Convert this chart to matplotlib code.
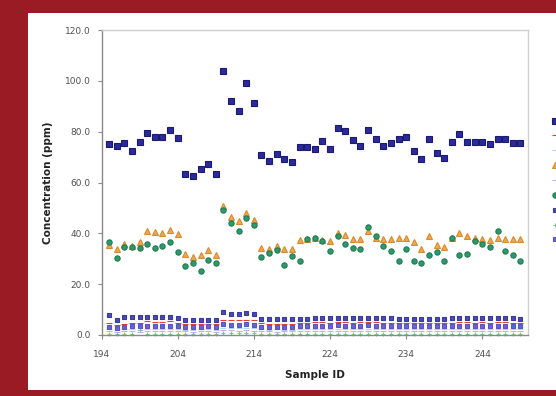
import matplotlib
matplotlib.use("Agg")
import matplotlib.pyplot as plt
from matplotlib.patches import Rectangle

# sample ids 195..249
sample_id = list(range(195, 250))

s1 = [75.1, 74.4, 75.7, 72.5, 76.1, 79.3, 78.0, 78.0, 80.7, 77.4,
      63.3, 62.6, 65.2, 67.3, 63.3,
      104.0, 92.2, 88.1, 99.0, 91.1,
      70.8, 68.5, 71.2, 69.1, 68.1,
      74.0, 74.0, 73.0, 76.2, 73.3, 81.3, 80.3, 76.7, 74.5, 80.7,
      77.2, 74.5, 75.4, 77.1, 77.8, 72.5, 69.1, 77.1, 71.5, 69.8,
      76.1, 79.1, 76.1, 76.1, 76.1, 75.1, 77.0, 77.0, 75.4, 75.4]
s2 = [4.6, 3.8, 4.4, 4.6, 4.8, 5.4, 5.2, 5.2, 5.4, 4.8,
      4.2, 4.2, 4.2, 4.4, 4.2,
      5.8, 5.8, 5.8, 5.8, 5.8,
      4.6, 4.4, 4.4, 4.4, 4.2,
      4.6, 4.8, 5.0, 5.0, 4.8, 5.0, 5.0, 4.8, 5.0, 5.2,
      5.0, 4.8, 4.8, 4.8, 4.8, 4.6, 4.6, 4.8, 4.6, 4.6,
      4.8, 5.0, 5.0, 4.8, 5.0, 4.8, 5.0, 5.0, 4.8, 4.6]
s3 = [2.2, 1.8, 2.2, 2.4, 2.0, 2.4, 2.4, 2.2, 2.4, 2.2,
      2.0, 2.0, 2.2, 2.2, 2.0,
      2.8, 2.6, 2.6, 2.8, 2.6,
      2.2, 2.0, 2.2, 2.0, 2.0,
      2.2, 2.4, 2.4, 2.2, 2.4, 2.4, 2.2, 2.4, 2.4, 2.2,
      2.4, 2.2, 2.2, 2.4, 2.2, 2.2, 2.2, 2.4, 2.2, 2.2,
      2.4, 2.4, 2.2, 2.4, 2.2, 2.4, 2.4, 2.2, 2.4, 2.2]
s4 = [35.4, 34.0, 36.0, 35.0, 36.5, 40.8, 40.4, 40.1, 41.2, 39.8,
      32.0, 30.7, 31.4, 33.3, 31.4,
      50.9, 46.6, 45.0, 48.1, 45.3,
      34.4, 33.7, 35.0, 33.7, 33.7,
      37.5, 37.8, 38.0, 37.5, 37.0, 40.0, 39.5, 37.8, 37.8, 40.8,
      38.2, 37.8, 37.8, 38.0, 38.0, 36.5, 34.0, 39.0, 35.5, 34.5,
      38.2, 40.0, 39.0, 38.0, 37.8, 37.5, 38.0, 37.8, 37.8, 37.8]
s5 = [1.4, 1.2, 1.6, 1.4, 1.0, 1.6, 1.6, 1.4, 1.6, 1.4,
      1.4, 1.2, 1.4, 1.4, 1.2,
      1.8, 1.8, 1.6, 1.8, 1.6,
      1.4, 1.4, 1.2, 1.4, 1.4,
      1.6, 1.6, 1.4, 1.6, 1.6, 1.6, 1.4, 1.6, 1.6, 1.4,
      1.6, 1.4, 1.6, 1.6, 1.4, 1.4, 1.6, 1.4, 1.4, 1.4,
      1.6, 1.6, 1.4, 1.6, 1.6, 1.4, 1.6, 1.6, 1.4, 1.6]
s6 = [36.7, 30.2, 34.6, 34.5, 34.2, 36.0, 34.3, 35.2, 36.7, 32.6,
      27.2, 28.5, 25.3, 29.4, 28.2,
      49.1, 44.2, 41.0, 46.0, 43.2,
      30.5, 32.4, 33.3, 27.6, 31.0,
      29.2, 37.8, 38.0, 37.0, 33.0, 39.0, 36.0, 34.4, 34.0, 42.5,
      39.0, 35.0, 33.0, 29.0, 34.0, 29.0, 28.5, 31.5, 32.5, 29.0,
      38.0, 31.5, 32.0, 37.0, 36.0, 34.5, 41.0, 33.0, 31.5, 29.0]
s7 = [7.8, 5.8, 7.2, 7.0, 7.0, 7.0, 7.0, 7.0, 7.0, 6.8,
      6.0, 6.0, 6.0, 6.0, 6.0,
      9.2, 8.4, 8.4, 8.6, 8.2,
      6.2, 6.2, 6.2, 6.2, 6.2,
      6.4, 6.4, 6.6, 6.6, 6.6, 6.6, 6.6, 6.6, 6.6, 6.6,
      6.6, 6.6, 6.6, 6.4, 6.4, 6.2, 6.4, 6.4, 6.4, 6.4,
      6.6, 6.6, 6.6, 6.6, 6.6, 6.6, 6.6, 6.6, 6.6, 6.4]
s8 = [0.5, 0.4, 0.5, 0.5, 1.8, 0.5, 0.5, 0.5, 0.5, 0.5,
      0.4, 0.4, 0.4, 0.4, 0.4,
      0.6, 0.6, 0.6, 0.6, 0.6,
      0.4, 0.4, 0.4, 0.4, 0.4,
      0.5, 0.5, 0.5, 0.5, 0.5, 0.5, 0.5, 0.5, 0.5, 0.5,
      0.5, 0.5, 0.5, 0.5, 0.5, 0.5, 0.5, 0.5, 0.5, 0.5,
      0.5, 0.5, 0.5, 0.5, 0.5, 0.5, 0.5, 0.5, 0.5, 0.5]
s9 = [3.0, 2.6, 3.2, 3.4, 3.4, 3.6, 3.6, 3.6, 3.6, 3.4,
      3.2, 3.2, 3.2, 3.4, 3.2,
      4.4, 4.0, 4.0, 4.2, 4.0,
      3.2, 3.0, 3.0, 3.2, 3.0,
      3.4, 3.6, 3.6, 3.6, 3.6, 3.8, 3.6, 3.6, 3.6, 3.8,
      3.6, 3.6, 3.6, 3.6, 3.4, 3.4, 3.4, 3.6, 3.4, 3.4,
      3.6, 3.6, 3.6, 3.6, 3.6, 3.6, 3.6, 3.6, 3.6, 3.4]

series_names = ["Series1", "Series2", "Series3", "Series4", "Series5",
                "Series6", "Series7", "Series8", "Series9"]
y_ticks = [0, 20, 40, 60, 80, 100, 120]
x_ticks = [194, 204, 214, 224, 234, 244]

# (values, marker, face colour, edge colour, size)
styles = [
    (s1, "s", "#2a2a9a", "#1a1a70", 4.0),
    (s2, "_", "#e0402a", "#e0402a", 4.5),
    (s3, "_", "#b8d4f0", "#b8d4f0", 4.0),
    (s4, "^", "#f0a84a", "#d88a30", 4.0),
    (s5, "_", "#c0b0ec", "#c0b0ec", 4.0),
    (s6, "o", "#2e9a6a", "#207a52", 3.8),
    (s7, "s", "#4a4ab8", "#3a3a9a", 2.8),
    (s8, "+", "#7cc88c", "#7cc88c", 3.2),
    (s9, "s", "#6a64d0", "#5a54c0", 2.5),
]

fig = plt.figure(figsize=(5.56, 3.96), dpi=100)
fig.patch.set_facecolor("#9a1b24")
fig.patches.append(Rectangle((28 / 556, 1 - 390 / 396), 1.0, 377 / 396,
                             transform=fig.transFigure, facecolor="white",
                             edgecolor="none", zorder=-5))

ax = fig.add_axes([101.5 / 556, 1 - 335 / 396, 426.5 / 556, 305 / 396])
ax.set_facecolor("white")

for (vals, mk, fc, ec, ms), name in zip(styles, series_names):
    ax.plot(sample_id, vals, linestyle="none", marker=mk, markersize=ms,
            markerfacecolor=fc, markeredgecolor=ec, markeredgewidth=0.8,
            label=name, clip_on=False)

ax.set_xlim(194, 250)
ax.set_ylim(0, 120)
ax.set_xticks(x_ticks)
ax.set_yticks(y_ticks)
ax.set_yticklabels(["%.1f" % v for v in y_ticks])
ax.tick_params(axis="both", direction="out", length=3, width=0.8,
               color="#888888", labelsize=6.5, labelcolor="#505050")
ax.tick_params(axis="x", pad=8)
ax.tick_params(axis="y", pad=5)

for side in ["left", "bottom"]:
    ax.spines[side].set_color("#8a8a8a")
    ax.spines[side].set_linewidth(1.0)
for side in ["top", "right"]:
    ax.spines[side].set_color("#cfcfcf")
    ax.spines[side].set_linewidth(1.0)

ax.set_xlabel("Sample ID", fontsize=7.5, fontweight="bold", color="#222222",
              labelpad=8)
ax.set_ylabel("Concentration (ppm)", fontsize=7.5, fontweight="bold",
              color="#222222", labelpad=8)

ax.legend(loc="upper left", bbox_to_anchor=(0.9895, 1 - 116 / 396),
          bbox_transform=fig.transFigure, frameon=False, fontsize=7,
          handlelength=1.0, handletextpad=0.5, borderpad=0, borderaxespad=0,
          labelspacing=0.5, numpoints=1)

fig.savefig("out.png", dpi=100, facecolor=fig.get_facecolor())
